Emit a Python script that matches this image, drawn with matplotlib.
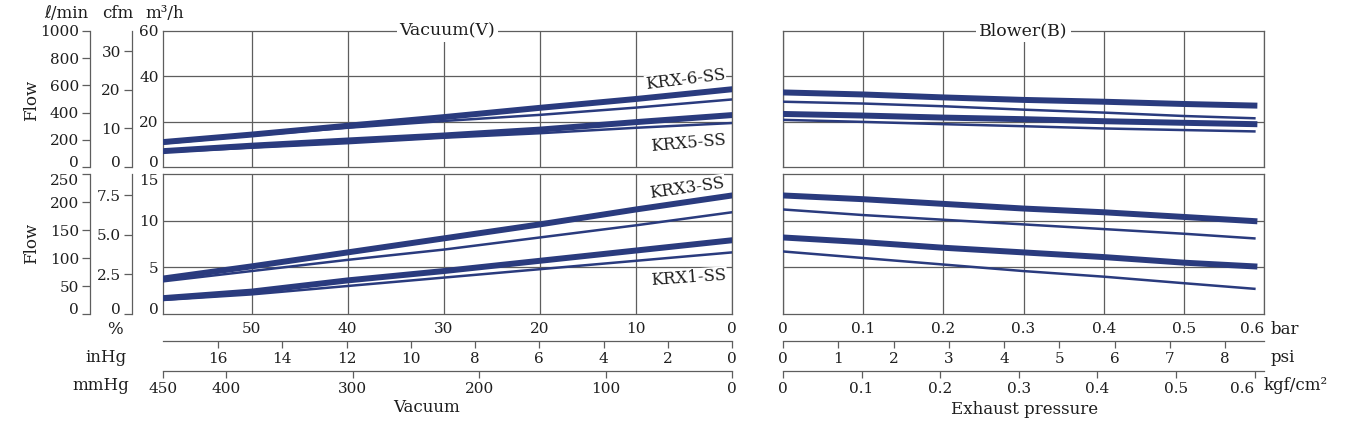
import matplotlib
matplotlib.use("Agg")
import matplotlib.pyplot as plt

plt.rcParams['font.family'] = ['DejaVu Serif', 'DejaVu Sans']

W, H = 1354, 432

# vacuum side: % vacuum at the grid lines (left edge = 450 mmHg)
vac_pct = [59.2, 50, 40, 30, 20, 10, 0]
krx6_v_thick = [11.0, 14.3, 18.2, 22.0, 26.1, 30.0, 34.3]
krx6_v_thin = [10.4, 13.9, 17.3, 20.3, 23.0, 26.2, 29.8]
krx5_v_thick = [7.0, 9.4, 11.7, 13.9, 16.5, 19.8, 22.9]
krx5_v_thin = [6.6, 8.5, 10.5, 12.9, 14.9, 17.3, 19.4]
krx3_v_thick = [3.8, 5.1, 6.6, 8.1, 9.6, 11.2, 12.7]
krx3_v_thin = [3.5, 4.6, 5.8, 6.9, 8.2, 9.5, 10.9]
krx1_v_thick = [1.7, 2.4, 3.6, 4.6, 5.7, 6.8, 7.9]
krx1_v_thin = [1.5, 2.1, 3.0, 3.9, 4.8, 5.7, 6.6]

# blower side: exhaust pressure in bar
blow_bar = [0, 0.1, 0.2, 0.3, 0.4, 0.5, 0.588]
krx6_b_thick = [32.9, 32.0, 30.7, 29.6, 28.8, 27.8, 27.1]
krx6_b_thin = [28.8, 28.0, 26.8, 25.3, 24.0, 22.5, 21.5]
krx5_b_thick = [23.4, 22.7, 21.8, 21.1, 20.2, 19.5, 18.9]
krx5_b_thin = [20.8, 19.9, 18.9, 18.0, 17.0, 16.3, 15.7]
krx3_b_thick = [12.7, 12.3, 11.8, 11.3, 10.9, 10.4, 9.95]
krx3_b_thin = [11.2, 10.6, 10.1, 9.6, 9.1, 8.6, 8.1]
krx1_b_thick = [8.2, 7.7, 7.1, 6.6, 6.1, 5.5, 5.1]
krx1_b_thin = [6.7, 6.0, 5.3, 4.6, 4.0, 3.3, 2.7]

pct_ticks = [50, 40, 30, 20, 10, 0]
inhg_ticks = [16, 14, 12, 10, 8, 6, 4, 2, 0]
mmhg_ticks = [450, 400, 300, 200, 100, 0]
bar_ticks = [0, 0.1, 0.2, 0.3, 0.4, 0.5, 0.6]
psi_ticks = [0, 1, 2, 3, 4, 5, 6, 7, 8]
kgf_ticks = [0, 0.1, 0.2, 0.3, 0.4, 0.5, 0.6]

NAVY = '#2a3b7e'
GRID = '#5e5e5e'
TXT = '#1e1e1e'
FS = 11


def box(x0, y0, x1, y1):
    # pixel box (top-left origin) -> figure fraction rect
    return [x0 / W, 1 - y1 / H, (x1 - x0) / W, (y1 - y0) / H]


def panel(rect, xlim, ylim, xgrid, ygrid):
    ax = fig.add_axes(rect)
    ax.set_xlim(*xlim)
    ax.set_ylim(*ylim)
    for v in xgrid:
        ax.axvline(v, color=GRID, lw=0.9, zorder=1)
    for v in ygrid:
        ax.axhline(v, color=GRID, lw=0.9, zorder=1)
    for s in ax.spines.values():
        s.set_color(GRID)
        s.set_linewidth(0.9)
    ax.set_xticks([])
    ax.set_yticks([])
    return ax


def hscale(x0, x1, y, xlim, ticks, labels):
    ax = fig.add_axes([x0 / W, 1 - y / H, (x1 - x0) / W, 0.0001])
    ax.set_xlim(*xlim)
    for k in ['left', 'right', 'top']:
        ax.spines[k].set_visible(False)
    ax.spines['bottom'].set_color(GRID)
    ax.spines['bottom'].set_linewidth(0.9)
    ax.set_yticks([])
    ax.set_xticks(ticks)
    ax.set_xticklabels(labels)
    ax.tick_params(axis='x', direction='out', length=5, width=0.9, color=GRID,
                   labelsize=FS, labelcolor=TXT, pad=3)
    return ax


def vscale(x, y0, y1, ylim, ticks, labels):
    ax = fig.add_axes([x / W, 1 - y1 / H, 0.0001, (y1 - y0) / H])
    ax.set_ylim(*ylim)
    for k in ['bottom', 'right', 'top']:
        ax.spines[k].set_visible(False)
    ax.spines['left'].set_color(GRID)
    ax.spines['left'].set_linewidth(0.9)
    ax.set_xticks([])
    ax.set_yticks(ticks)
    ax.set_yticklabels(labels)
    ax.tick_params(axis='y', direction='out', length=6, width=0.9, color=GRID,
                   labelsize=FS, labelcolor=TXT, pad=2)
    return ax


def nudge(ax, top_down):
    # keep the end labels of stacked scales apart
    labs = ax.get_yticklabels()
    labs[0].set_va('baseline')
    if top_down:
        labs[-1].set_va('top')


fig = plt.figure(figsize=(W / 100, H / 100), dpi=100)

VX0, VX1 = 163, 732
BX0, BX1 = 783, 1264
T0, T1 = 31, 167
B0, B1 = 174, 314
vac_lim = (450 / 7.6, 0)

ax_vt = panel(box(VX0, T0, VX1, T1), vac_lim, (0, 60), pct_ticks, [20, 40])
ax_vb = panel(box(VX0, B0, VX1, B1), vac_lim, (0, 15), pct_ticks, [5, 10])
ax_bt = panel(box(BX0, T0, BX1, T1), (0, 0.6), (0, 60), bar_ticks, [20, 40])
ax_bb = panel(box(BX0, B0, BX1, B1), (0, 0.6), (0, 15), bar_ticks, [5, 10])

TH, TN = 4.3, 1.8
ax_vt.plot(vac_pct, krx6_v_thin, color=NAVY, lw=TN, zorder=3)
ax_vt.plot(vac_pct, krx6_v_thick, color=NAVY, lw=TH, zorder=3)
ax_vt.plot(vac_pct, krx5_v_thin, color=NAVY, lw=TN, zorder=3)
ax_vt.plot(vac_pct, krx5_v_thick, color=NAVY, lw=TH, zorder=3)
ax_vb.plot(vac_pct, krx3_v_thin, color=NAVY, lw=TN, zorder=3)
ax_vb.plot(vac_pct, krx3_v_thick, color=NAVY, lw=TH, zorder=3)
ax_vb.plot(vac_pct, krx1_v_thin, color=NAVY, lw=TN, zorder=3)
ax_vb.plot(vac_pct, krx1_v_thick, color=NAVY, lw=TH, zorder=3)

ax_bt.plot(blow_bar, krx6_b_thin, color=NAVY, lw=TN, zorder=3)
ax_bt.plot(blow_bar, krx6_b_thick, color=NAVY, lw=TH, zorder=3)
ax_bt.plot(blow_bar, krx5_b_thin, color=NAVY, lw=TN, zorder=3)
ax_bt.plot(blow_bar, krx5_b_thick, color=NAVY, lw=TH, zorder=3)
ax_bb.plot(blow_bar, krx3_b_thin, color=NAVY, lw=TN, zorder=3)
ax_bb.plot(blow_bar, krx3_b_thick, color=NAVY, lw=TH, zorder=3)
ax_bb.plot(blow_bar, krx1_b_thin, color=NAVY, lw=TN, zorder=3)
ax_bb.plot(blow_bar, krx1_b_thick, color=NAVY, lw=TH, zorder=3)

# m3/h labels on the plot spine (no tick marks)
for ax, ticks, down in [(ax_vt, [0, 20, 40, 60], False), (ax_vb, [0, 5, 10, 15], True)]:
    ax.set_yticks(ticks)
    ax.set_yticklabels([str(t) for t in ticks])
    ax.tick_params(axis='y', length=0, labelsize=FS, labelcolor=TXT, pad=3)
    nudge(ax, down)

# % and bar labels under the bottom plots
ax_vb.set_xticks(pct_ticks)
ax_vb.set_xticklabels([str(t) for t in pct_ticks])
ax_vb.tick_params(axis='x', length=0, labelsize=FS, labelcolor=TXT, pad=6)
ax_bb.set_xticks(bar_ticks)
ax_bb.set_xticklabels(['0' if t == 0 else str(t) for t in bar_ticks])
ax_bb.tick_params(axis='x', length=0, labelsize=FS, labelcolor=TXT, pad=6)
ax_bb.get_xticklabels()[-1].set_ha('right')

# left flow scales: l/min and cfm
a = vscale(90, T0, T1, (0, 1000), [0, 200, 400, 600, 800, 1000],
           ['0', '200', '400', '600', '800', '1000'])
nudge(a, False)
a = vscale(132, T0, T1, (0, 60 / 1.699), [0, 10, 20, 30], ['0', '10', '20', '30'])
nudge(a, False)
a = vscale(90, B0, B1, (0, 250), [0, 50, 100, 150, 200, 250],
           ['0', '50', '100', '150', '200', '250'])
nudge(a, True)
a = vscale(132, B0, B1, (0, 15 / 1.699), [0, 2.5, 5.0, 7.5], ['0', '2.5', '5.0', '7.5'])
nudge(a, False)

# extra horizontal scales
hscale(VX0, VX1, 341, vac_lim, [v * 25.4 / 7.6 for v in inhg_ticks],
       [str(v) for v in inhg_ticks])
hscale(VX0, VX1, 371, vac_lim, [v / 7.6 for v in mmhg_ticks],
       [str(v) for v in mmhg_ticks])
hscale(BX0, BX1, 341, (0, 0.6), [v * 0.0689476 for v in psi_ticks],
       [str(v) for v in psi_ticks])
a = hscale(BX0, BX1, 371, (0, 0.6), [v * 0.980665 for v in kgf_ticks],
           ['0' if v == 0 else str(v) for v in kgf_ticks])
a.get_xticklabels()[-1].set_ha('right')

# titles sitting on the top frame
for ax, t in [(ax_vt, 'Vacuum(V)'), (ax_bt, 'Blower(B)')]:
    ax.text(0.5, 1.0, t, transform=ax.transAxes, ha='center', va='center',
            fontsize=12.5, color=TXT, zorder=5,
            bbox=dict(facecolor='white', edgecolor='none', pad=2))

# model labels on the curves
lab = dict(ha='center', va='center', fontsize=12, color=TXT, zorder=5,
           bbox=dict(facecolor='white', edgecolor='none', pad=0.5))
ax_vt.text(0.918, 0.64, 'KRX-6-SS', transform=ax_vt.transAxes, rotation=7, **lab)
ax_vt.text(0.924, 0.176, 'KRX5-SS', transform=ax_vt.transAxes, rotation=5, **lab)
ax_vb.text(0.921, 0.90, 'KRX3-SS', transform=ax_vb.transAxes, rotation=8, **lab)
ax_vb.text(0.924, 0.257, 'KRX1-SS', transform=ax_vb.transAxes, rotation=4, **lab)


# header units and axis names
def ftext(px, py, s, ha='center', **kw):
    fig.text(px / W, 1 - py / H, s, ha=ha, va='center', color=TXT,
             fontsize=kw.pop('fontsize', 12), **kw)


ftext(66, 14, 'ℓ/min')
ftext(118, 14, 'cfm')
ftext(165, 14, 'm³/h')
ftext(32, 100, 'Flow', rotation=90)
ftext(32, 243, 'Flow', rotation=90)
ftext(115, 330, '%')
ftext(106, 357, 'inHg')
ftext(101, 386, 'mmHg')
ftext(427, 407, 'Vacuum')
ftext(1271, 329, 'bar', ha='left')
ftext(1271, 357, 'psi', ha='left')
ftext(1264, 386, 'kgf/cm²', ha='left')
ftext(1025, 410, 'Exhaust pressure')

fig.savefig('out.png', dpi=100, facecolor='white')
